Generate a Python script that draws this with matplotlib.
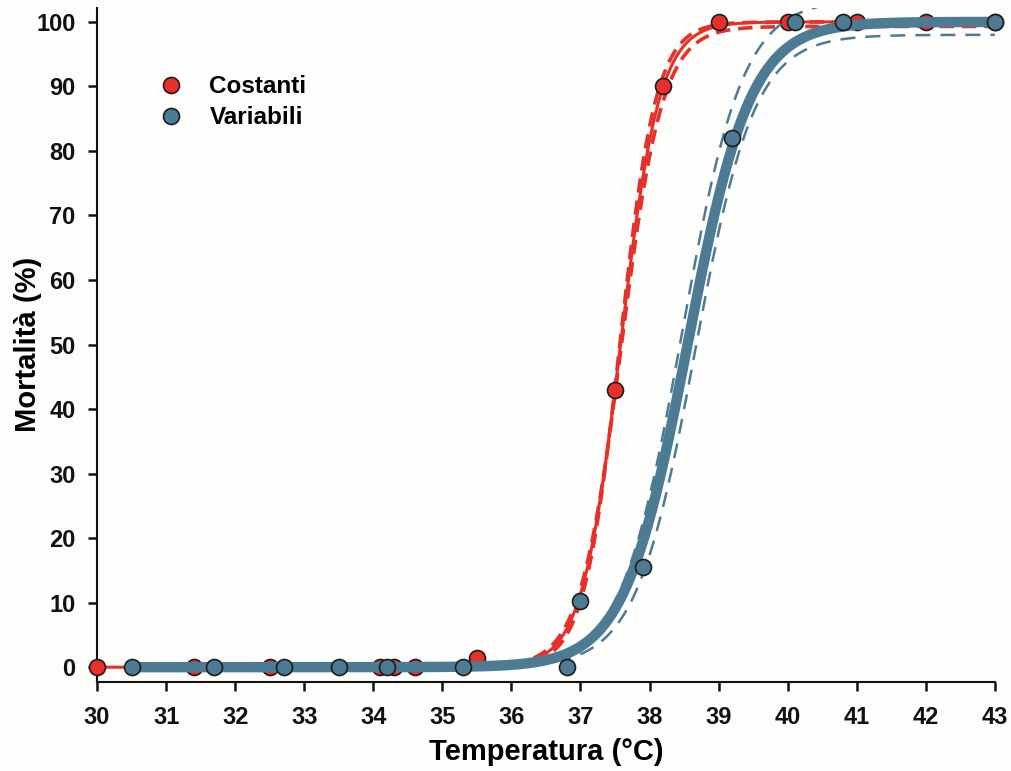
"""Mortality vs temperature, constant vs variable regimes."""

import matplotlib

matplotlib.use("Agg")
import matplotlib.pyplot as plt  # noqa: E402
import numpy as np

plt.rcParams["font.family"] = ["Liberation Sans", "DejaVu Sans"]
plt.rcParams["font.weight"] = "bold"

RED = "#e8302a"
BLUE = "#4e7b94"
EDGE = "#1c1c1c"

# observed points
cost_temp = [30.0, 31.4, 32.5, 34.1, 34.3, 34.6, 35.5, 37.5, 38.2, 39.0, 40.0, 41.0, 42.0, 43.0]
cost_mort = [0, 0, 0, 0, 0, 0, 1.5, 43, 90, 100, 100, 100, 100, 100]
var_temp = [30.5, 31.7, 32.7, 33.5, 34.2, 35.3, 36.8, 37.0, 37.9, 39.2, 40.1, 40.8, 43.0]
var_mort = [0, 0, 0, 0, 0, 0, 0, 10.3, 15.5, 82, 100, 100, 100]

# logistic fits (top, x50, slope) and their confidence bands
cost_fit = (100.0, 37.58, 0.282)
cost_upper = (100.0, 37.57, 0.262)
cost_lower = (99.3, 37.59, 0.30)
var_fit = (100.0, 38.55, 0.455)
var_upper = (103.5, 38.47, 0.44)
var_lower = (98.0, 38.66, 0.43)


def logistic(x, params):
    top, x50, slope = params
    return top / (1.0 + np.exp(-(x - x50) / slope))


fig = plt.figure(figsize=(10.11, 7.71), dpi=100)
fig.patch.set_facecolor("#fdfdfb")
ax = fig.add_axes([0.096, 0.1154, 0.888, 0.8746])
ax.set_facecolor("#fdfdfb")

xr = np.linspace(30.0, 43.0, 600)
xb = np.linspace(30.5, 43.0, 600)

for band in (cost_upper, cost_lower):
    ax.plot(xb, logistic(xb, band), color=RED, lw=2.6, ls=(0, (4, 2.2)), zorder=2)
ax.plot(xr, logistic(xr, cost_fit), color=RED, lw=2.2, zorder=2.5)
ax.plot(cost_temp, cost_mort, "o", ms=11.5, mfc=RED, mec=EDGE, mew=1.2,
        zorder=3, clip_on=False, label="Costanti")

ax.plot(xb, logistic(xb, var_fit), color=BLUE, lw=7.5, zorder=5, solid_capstyle="butt")
for band in (var_upper, var_lower):
    ax.plot(xb, logistic(xb, band), color=BLUE, lw=1.8, ls=(0, (6, 4)), zorder=5.5)
ax.plot(var_temp, var_mort, "o", ms=11.5, mfc=BLUE, mec=EDGE, mew=1.2,
        zorder=6, clip_on=False, label="Variabili")

ax.set_xlim(30, 43)
ax.set_ylim(-2.3, 102.2)
ax.set_xticks(np.arange(30, 44, 1))
ax.set_yticks(np.arange(0, 101, 10))
for side in ("top", "right"):
    ax.spines[side].set_visible(False)
for side in ("left", "bottom"):
    ax.spines[side].set_linewidth(1.5)
    ax.spines[side].set_color("#111111")
ax.tick_params(direction="out", length=6.5, width=1.8, labelsize=17, colors="#111111")
ax.tick_params(axis="x", pad=11)
ax.tick_params(axis="y", pad=9)

ax.set_xlabel("Temperatura (°C)", fontsize=21, fontweight="bold")
ax.set_ylabel("Mortalità (%)", fontsize=21, fontweight="bold")
ax.xaxis.set_label_coords(0.5, -0.083)
ax.yaxis.set_label_coords(-0.061, 0.5)

ax.legend(loc="upper left", bbox_to_anchor=(0.044, 0.932), frameon=False, numpoints=1,
          handlelength=1.0, handletextpad=1.1, labelspacing=0.32,
          prop={"weight": "bold", "size": 17.5})

fig.savefig("out.png", dpi=100, facecolor=fig.get_facecolor())
plt.close(fig)
